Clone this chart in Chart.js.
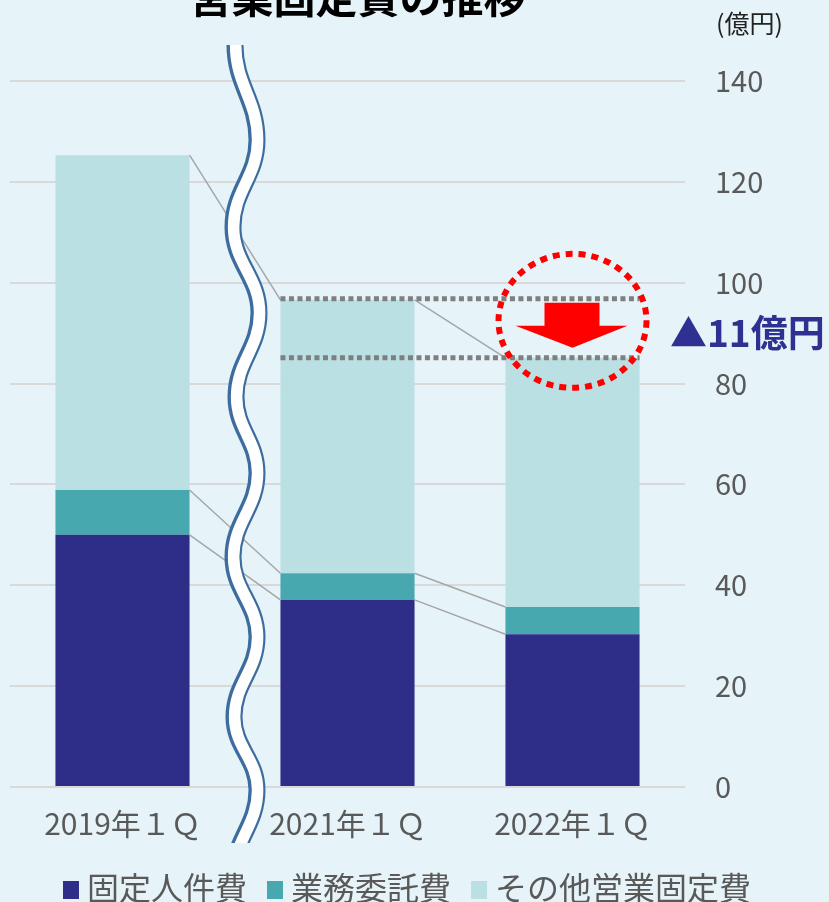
<!DOCTYPE html>
<html lang="ja">
<head>
<meta charset="utf-8">
<title>営業固定費の推移</title>
<script src="https://cdn.jsdelivr.net/npm/chart.js@4.4.1/dist/chart.umd.min.js"></script>
<style>
  html, body { margin: 0; padding: 0; background: #e6f3f8; overflow: hidden; }
  #wrap { position: relative; width: 829px; height: 902px; overflow: hidden;
          font-family: "Noto Sans CJK JP", sans-serif; }
  #chart { position: absolute; left: 0; top: 0; }
  #title { position: absolute; left: 0; width: 715px; top: -26px; text-align: center;
           font-size: 42px; font-weight: bold; line-height: 1; color: #000; }
  #unit { position: absolute; left: 716px; top: 10px; font-size: 25px; line-height: 1; color: #222; }
  #delta { position: absolute; left: 670px; top: 313px; font-size: 37px; font-weight: bold;
           line-height: 1; color: #2e3192; white-space: nowrap; }
  #legend { position: absolute; left: 63px; top: 870px; display: flex; gap: 20px;
            font-size: 32px; line-height: 1; color: #595959; white-space: nowrap; }
  #legend span { display: flex; align-items: flex-start; }
  #legend i { display: inline-block; width: 16px; height: 18px; margin: 11px 8px 0 0; }
</style>
</head>
<body>
<div id="wrap">
  <canvas id="chart" width="829" height="902"></canvas>
  <div id="title">営業固定費の推移</div>
  <div id="unit">(億円)</div>
  <div id="delta">▲11億円</div>
  <div id="legend"></div>
</div>
<script>
(() => {
  "use strict";
  // data (億円)
  const categories = ["2019年１Ｑ", "2021年１Ｑ", "2022年１Ｑ"];
  const personnel = [50.0, 37.1, 30.3];      // 固定人件費
  const outsourcing = [8.9, 5.3, 5.4];       // 業務委託費
  const otherFixed = [66.4, 54.2, 49.4];     // その他営業固定費
  const seriesNames = ["固定人件費", "業務委託費", "その他営業固定費"];
  const seriesColors = ["#2e2d88", "#48a8b0", "#bae0e3"];
  const yMax = 140, yStep = 20;

  const FONT = "'Noto Sans CJK JP', sans-serif";

  // connectors, dotted comparison lines, red circle + arrow, axis break
  const decor = {
    id: "decor",
    afterDatasetsDraw(chart) {
      const ctx = chart.ctx;
      const metas = chart.data.datasets.map((d, i) => chart.getDatasetMeta(i));
      ctx.save();
      // grey connector lines between segment tops
      ctx.strokeStyle = "#a6a6a6";
      ctx.lineWidth = 1.5;
      metas.forEach((m) => {
        for (let i = 0; i < m.data.length - 1; i++) {
          const a = m.data[i], b = m.data[i + 1];
          ctx.beginPath();
          ctx.moveTo(a.x + a.width / 2, a.y);
          ctx.lineTo(b.x - b.width / 2, b.y);
          ctx.stroke();
        }
      });
      // dotted lines at totals of 2021 and 2022
      const top = metas[metas.length - 1].data;
      const b2 = top[1], b3 = top[2];
      const x0 = b2.x - b2.width / 2, x1 = b3.x + b3.width / 2;
      const yUp = b2.y, yLow = b3.y;
      ctx.strokeStyle = "#7f7f7f";
      ctx.lineWidth = 5;
      ctx.setLineDash([5, 3.5]);
      [yUp - 1, yLow].forEach((y) => {
        ctx.beginPath(); ctx.moveTo(x0, y); ctx.lineTo(x1, y); ctx.stroke();
      });
      // red arrow
      const cx = b3.x;
      ctx.setLineDash([]);
      ctx.fillStyle = "#ff0000";
      ctx.beginPath();
      ctx.moveTo(cx - 28, yUp + 3);
      ctx.lineTo(cx + 27, yUp + 3);
      ctx.lineTo(cx + 27, yUp + 26);
      ctx.lineTo(cx + 55, yUp + 26);
      ctx.lineTo(cx, yLow - 10);
      ctx.lineTo(cx - 57, yUp + 26);
      ctx.lineTo(cx - 28, yUp + 26);
      ctx.closePath();
      ctx.fill();
      // red dotted ellipse
      ctx.strokeStyle = "#ff0000";
      ctx.lineWidth = 6;
      ctx.setLineDash([7, 6]);
      ctx.beginPath();
      ctx.ellipse(cx, (yUp + yLow) / 2 - 8, 74, 67, 0, 0, Math.PI * 2);
      ctx.stroke();
      ctx.restore();
    },
    afterDraw(chart) {
      // wavy axis break between 2019 and 2021
      const ctx = chart.ctx;
      const m = chart.getDatasetMeta(0).data;
      const mid = (m[0].x + m[0].width / 2 + m[1].x - m[1].width / 2) / 2;
      const pts = [[0, 45], [22, 140], [-2, 227], [24, 313], [1, 397], [22, 473],
                   [-2, 557], [22, 637], [-1, 717], [22, 790], [-2, 876]];
      const path = () => {
        ctx.beginPath();
        ctx.moveTo(mid + pts[0][0], pts[0][1]);
        for (let i = 1; i < pts.length; i++) {
          const [ax, ay] = pts[i - 1], [bx, by] = pts[i];
          const k = (by - ay) * 0.42;
          ctx.bezierCurveTo(mid + ax, ay + k, mid + bx, by - k, mid + bx, by);
        }
      };
      ctx.save();
      ctx.beginPath();
      ctx.rect(0, 0, chart.width, 843);
      ctx.clip();
      ctx.lineCap = "butt";
      path(); ctx.strokeStyle = "#3d6d9e"; ctx.lineWidth = 17; ctx.stroke();
      ctx.translate(0.6, 0);
      path(); ctx.strokeStyle = "#ffffff"; ctx.lineWidth = 11.5; ctx.stroke();
      ctx.restore();
    },
  };

  const datasets = [personnel, outsourcing, otherFixed].map((data, i) => ({
    label: seriesNames[i],
    data,
    backgroundColor: seriesColors[i],
    borderWidth: 0,
    categoryPercentage: 1,
    barPercentage: 0.596,
  }));

  new Chart(document.getElementById("chart"), {
    type: "bar",
    data: { labels: categories, datasets },
    options: {
      responsive: false,
      animation: false,
      layout: { padding: { top: 81, left: 10, right: 0, bottom: 0 } },
      plugins: { legend: { display: false }, tooltip: { enabled: false } },
      scales: {
        x: {
          stacked: true,
          grid: { display: false },
          border: { display: false },
          ticks: { color: "#595959", font: { family: FONT, size: 30 }, padding: 11 },
          afterFit: (s) => { s.height = 115; },
        },
        y: {
          stacked: true,
          position: "right",
          min: 0, max: yMax,
          grid: { color: "#d9d9d9", lineWidth: 2, drawTicks: false },
          border: { display: false },
          ticks: { stepSize: yStep, color: "#595959", font: { family: FONT, size: 29 }, padding: 30 },
          afterFit: (s) => { s.width = 144; },
        },
      },
    },
    plugins: [decor],
  });

  document.getElementById("legend").innerHTML = seriesNames.map((n, i) =>
    `<span><i style="background:${seriesColors[i]}"></i>${n}</span>`).join("");
})();
</script>
</body>
</html>
